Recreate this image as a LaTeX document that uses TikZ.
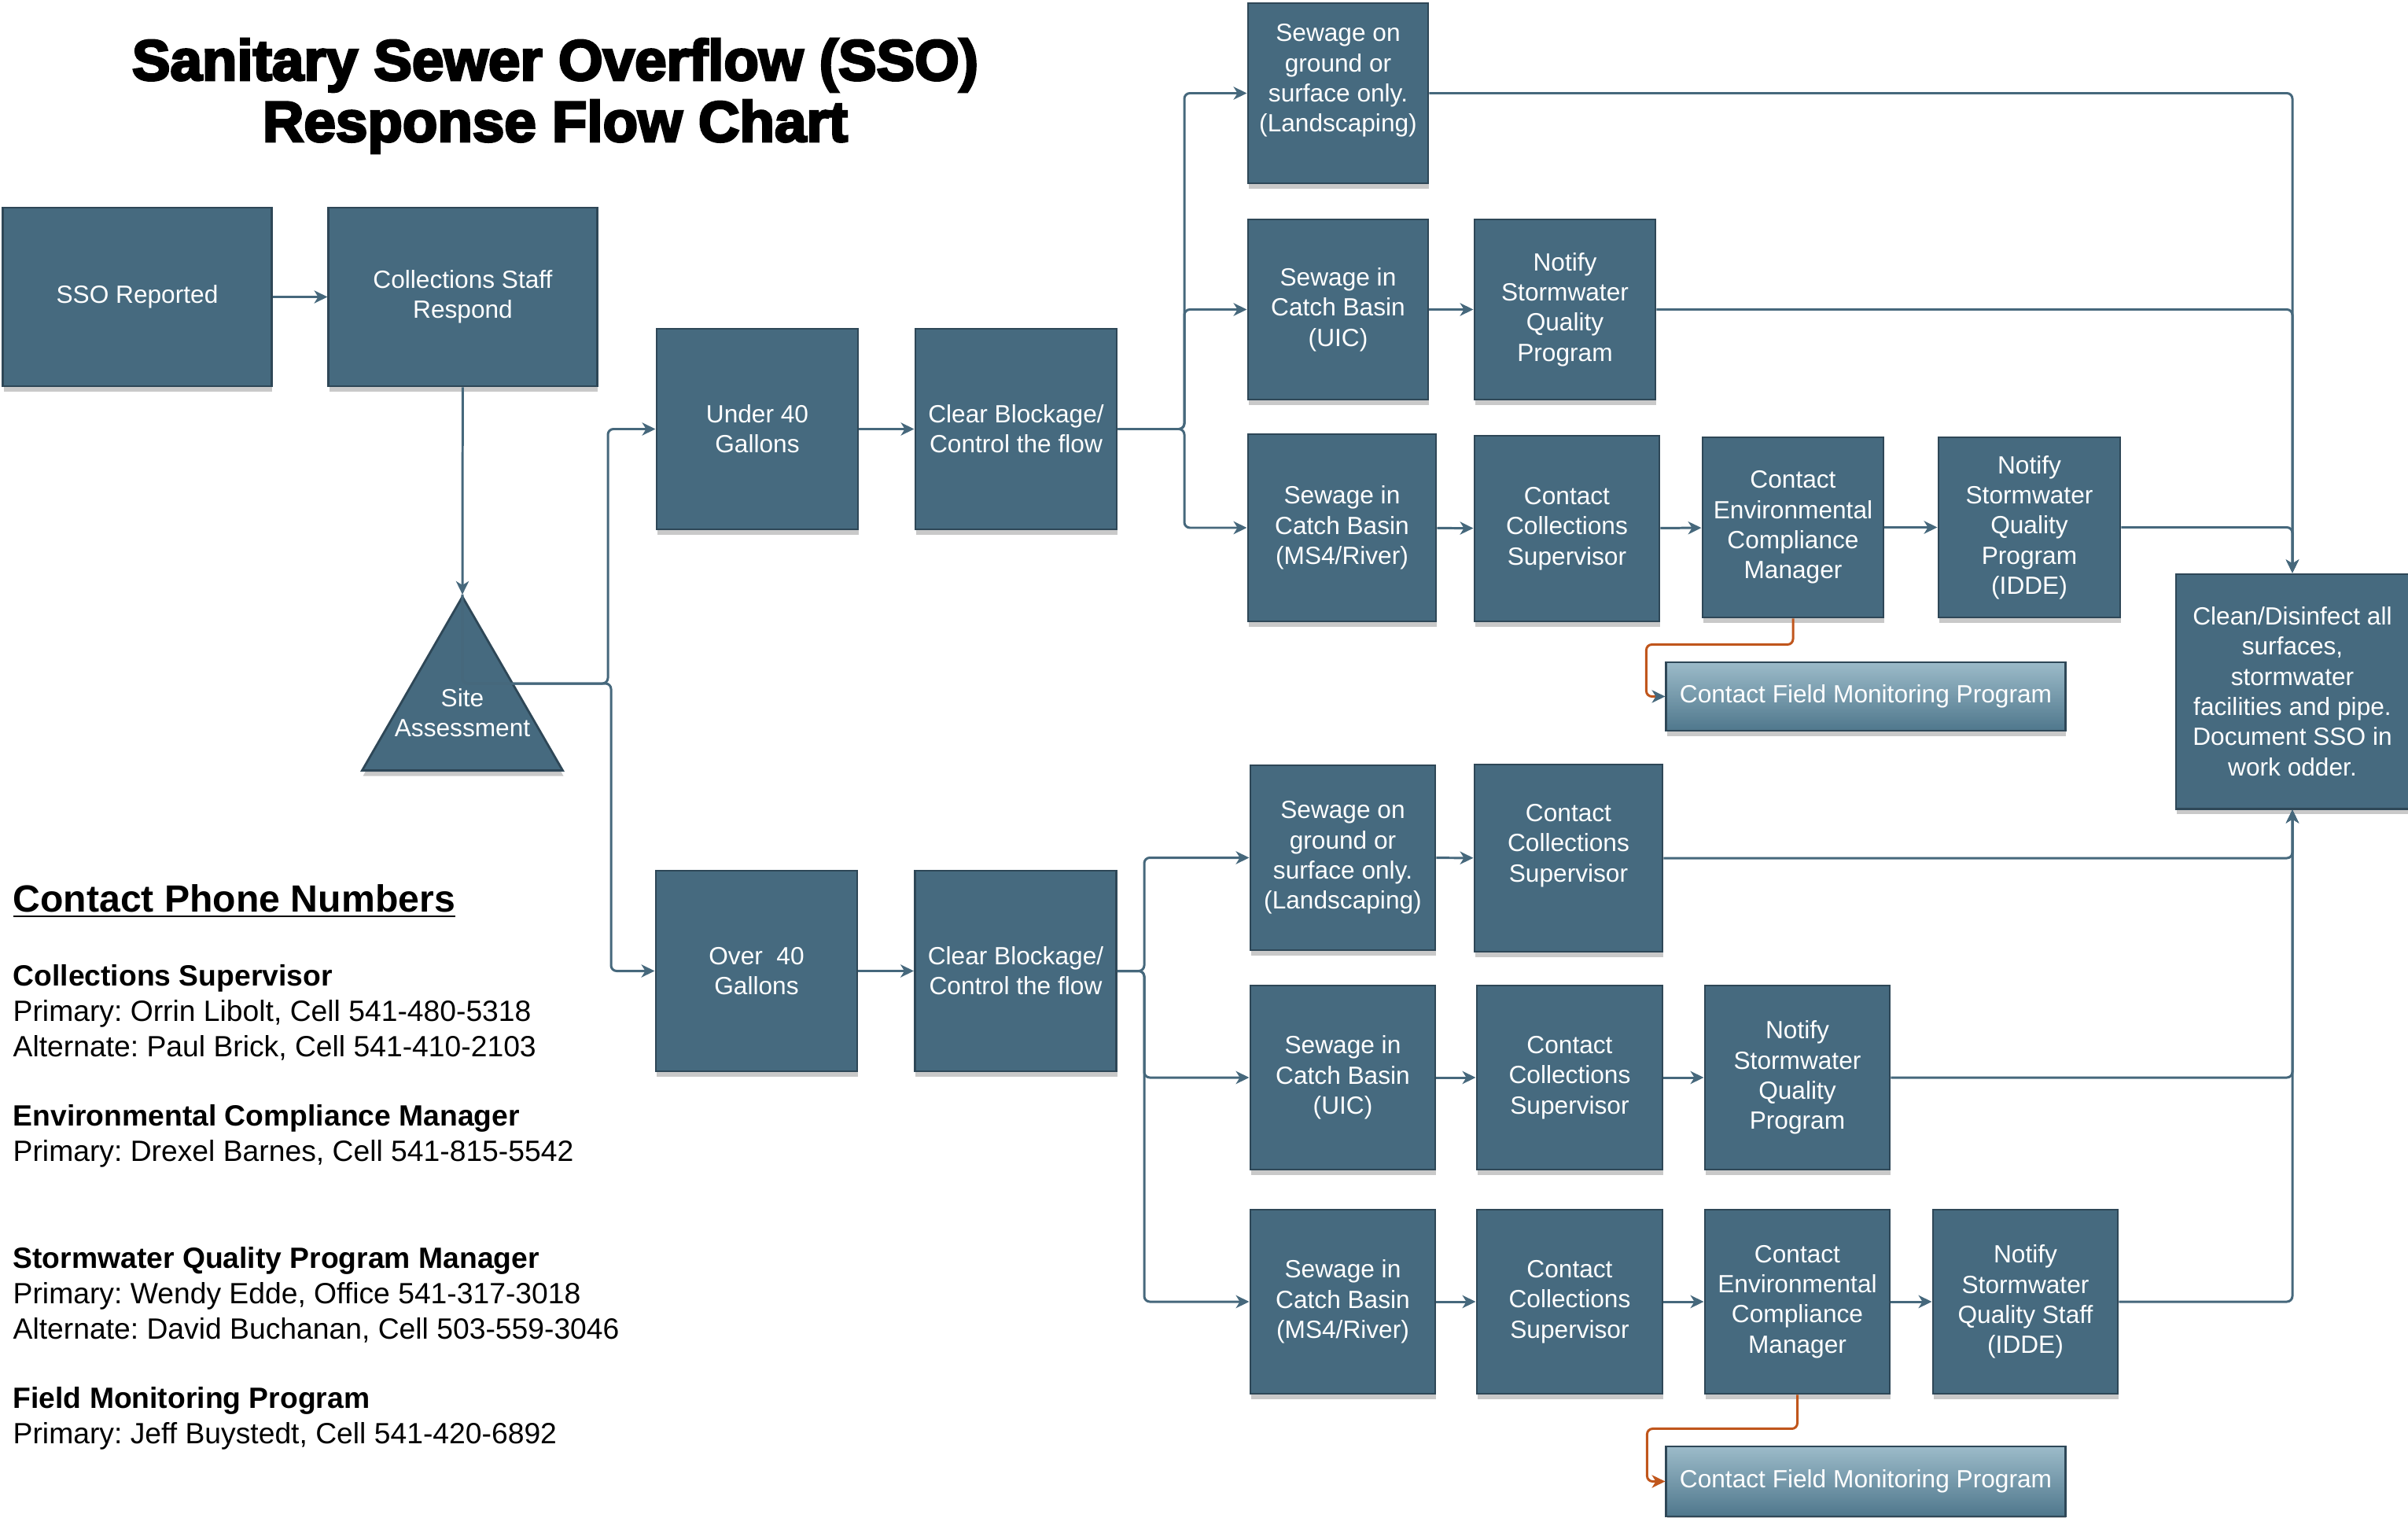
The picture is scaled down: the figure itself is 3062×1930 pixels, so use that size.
\documentclass[tikz,border=0pt]{standalone}
\usepackage{fontspec}
\setmainfont{Liberation Sans}
\newfontfamily\titleFamily{Liberation Sans}[BoldFeatures={FakeBold=4}]
\usetikzlibrary{arrows.meta, shadows}
\definecolor{boxFill}{HTML}{466A7F}
\definecolor{boxEdge}{HTML}{2E4757}
\definecolor{lineColor}{HTML}{46687C}
\definecolor{alertColor}{HTML}{C0561C}
\definecolor{fieldTop}{HTML}{9CBBC9}
\definecolor{fieldBottom}{HTML}{4F778C}
\newcommand{\boxFont}{\fontsize{9}{10.9}\selectfont}
\newcommand{\listFont}{\fontsize{10.6}{12.76}\selectfont}
\tikzstyle{pixelGrid} = [x = 0.01cm, y = -0.01cm]
\tikzstyle{stepBox} = [draw=boxEdge, fill=boxFill, line width=0.8pt, text=white, font=\boxFont, align=center, inner sep=0pt, drop shadow={shadow xshift=0.3pt, shadow yshift=-2pt, opacity=0.3, fill=black!70}]
\tikzstyle{fieldBox} = [stepBox, top color=fieldTop, bottom color=fieldBottom]
\tikzstyle{siteShape} = [stepBox, regular polygon, regular polygon sides=3, minimum size=2.944cm]
\tikzstyle{boxText} = [text=white, font=\boxFont, align=center, inner sep=0pt]
\tikzstyle{flowLine} = [draw=lineColor, line width=0.85pt, rounded corners=2pt, -{Stealth[length=4.8pt, width=4.6pt, inset=1.4pt]}]
\tikzstyle{alertLine} = [flowLine, draw=alertColor, -{Stealth[length=4.8pt, width=4.6pt, inset=1.4pt, color=alertColor]}]
\tikzstyle{listText} = [anchor=west, align=left, inner sep=0pt, font=\listFont]
\newcommand{\stepNode}[5]{\node [stepBox, minimum width = #3, minimum height = #4] (#1) at (#2) {#5};}
\newcommand{\fieldNode}[3]{\node [fieldBox, minimum width = 5.07cm, minimum height = #3] (#1) at (#2) {Contact Field Monitoring Program};}
\usetikzlibrary{shapes.geometric}
\frenchspacing
\begin{document}
\begin{tikzpicture}[pixelGrid]
  \useasboundingbox (0,0) rectangle (3062,1930);

  \node [font=\titleFamily\bfseries\fontsize{20.7}{22.2}\selectfont, align=center] (title) at (706,122) {Sanitary Sewer Overflow (SSO)\\Response Flow Chart};

  \stepNode{sso}{174.5,377.5}{3.41cm}{2.27cm}{SSO Reported}
  \stepNode{crew}{588.5,377.5}{3.41cm}{2.27cm}{Collections Staff\\Respond}
  \node [siteShape] (site) at (588,906) {};
  \node [boxText] (siteText) at (site.center) {Site\\Assessment};
  \stepNode{under}{963,545.5}{2.56cm}{2.55cm}{Under 40\\Gallons}
  \stepNode{clearA}{1292,545.5}{2.56cm}{2.55cm}{Clear Blockage/\\Control the flow}
  \stepNode{over}{962,1234.5}{2.56cm}{2.55cm}{Over \ 40\\Gallons}
  \stepNode{clearB}{1291.5,1234.5}{2.56cm}{2.55cm}{Clear Blockage/\\Control the flow}

  \stepNode{groundA}{1701.5,118.5}{2.29cm}{2.29cm}{Sewage on\\ground or\\surface only.\\(Landscaping)\\\mbox{}}
  \stepNode{uicA}{1701.5,393.5}{2.29cm}{2.29cm}{Sewage in\\Catch Basin\\(UIC)}
  \stepNode{swqA}{1990,393.5}{2.30cm}{2.29cm}{Notify\\Stormwater\\Quality\\Program}
  \stepNode{msA}{1706.5,671}{2.39cm}{2.38cm}{Sewage in\\Catch Basin\\(MS4/River)}
  \stepNode{supA}{1992.5,672}{2.35cm}{2.36cm}{Contact\\Collections\\Supervisor}
  \stepNode{ecmA}{2280,670.5}{2.30cm}{2.29cm}{Contact\\Environmental\\Compliance\\Manager}
  \stepNode{iddeA}{2580.5,670.5}{2.31cm}{2.29cm}{Notify\\Stormwater\\Quality\\Program\\(IDDE)}
  \fieldNode{fieldA}{2372.5,885.5}{0.87cm}
  \stepNode{clean}{2915,879}{2.96cm}{2.98cm}{Clean/Disinfect all\\surfaces,\\stormwater\\facilities and pipe.\\Document SSO in\\work odder.}

  \stepNode{groundB}{1707.5,1090.5}{2.35cm}{2.35cm}{Sewage on\\ground or\\surface only.\\(Landscaping)}
  \stepNode{supB1}{1994.5,1091}{2.39cm}{2.38cm}{Contact\\Collections\\Supervisor\\\mbox{}}
  \stepNode{uicB}{1707.5,1370}{2.35cm}{2.34cm}{Sewage in\\Catch Basin\\(UIC)}
  \stepNode{supB2}{1996,1370}{2.36cm}{2.34cm}{Contact\\Collections\\Supervisor}
  \stepNode{swqB}{2285.5,1370}{2.35cm}{2.34cm}{Notify\\Stormwater\\Quality\\Program}
  \stepNode{msB}{1707.5,1655}{2.35cm}{2.34cm}{Sewage in\\Catch Basin\\(MS4/River)}
  \stepNode{supB3}{1996,1655}{2.36cm}{2.34cm}{Contact\\Collections\\Supervisor}
  \stepNode{ecmB}{2285.5,1655}{2.35cm}{2.34cm}{Contact\\Environmental\\Compliance\\Manager}
  \stepNode{iddeB}{2575.5,1655}{2.35cm}{2.34cm}{Notify\\Stormwater\\Quality Staff\\(IDDE)}
  \fieldNode{fieldB}{2372.5,1883.5}{0.89cm}

  \coordinate (forkUp) at (773,869);
  \coordinate (forkDown) at (777,869);
  \coordinate (splitA) at (1506,545.5);
  \coordinate (splitB) at (1455,1234.5);

  \draw [flowLine] (sso) -- (crew);
  \draw [flowLine] (crew) -- (site.north);
  \draw [flowLine] (site.north) |- (forkUp) |- (under.west);
  \draw [flowLine] (site.north) |- (forkDown) |- (over.west);
  \draw [flowLine] (under) -- (clearA);
  \draw [flowLine] (over) -- (clearB);

  \foreach \target in {groundA, uicA, msA} {
    \draw [flowLine] (clearA.east) -- (splitA) |- (\target.west);
  }
  \foreach \target in {groundB, uicB, msB} {
    \draw [flowLine] (clearB.east) -- (splitB) |- (\target.west);
  }

  \draw [flowLine] (uicA) -- (swqA);
  \draw [flowLine] (msA) -- (supA);
  \draw [flowLine] (supA) -- (ecmA);
  \draw [flowLine] (ecmA) -- (iddeA);
  \draw [flowLine] (groundB) -- (supB1);
  \draw [flowLine] (uicB) -- (supB2);
  \draw [flowLine] (supB2) -- (swqB);
  \draw [flowLine] (msB) -- (supB3);
  \draw [flowLine] (supB3) -- (ecmB);
  \draw [flowLine] (ecmB) -- (iddeB);

  \foreach \source in {groundA, swqA, iddeA} {
    \draw [flowLine] (\source.east) -| (clean.north);
  }
  \foreach \source in {supB1, swqB, iddeB} {
    \draw [flowLine] (\source.east) -| (clean.south);
  }

  \draw [alertLine, -{Stealth[length=4.8pt, width=4.6pt, inset=1.4pt, color=lineColor]}] (ecmA.south) -- ++(0,33) -| ([xshift=-0.24cm]fieldA.west) -- (fieldA.west);
  \draw [alertLine] (ecmB.south) -- ++(0,43) -| ([xshift=-0.23cm]fieldB.west) -- (fieldB.west);

  \node [listText, font=\bfseries\fontsize{13.7}{16}\selectfont] (phoneHead) at (16,1146) {\underline{Contact Phone Numbers}};
  \node [listText] (supList) at (16,1287) {\textbf{Collections Supervisor}\\Primary: Orrin Libolt, Cell 541-480-5318\\Alternate: Paul Brick, Cell 541-410-2103};
  \node [listText] (ecmList) at (16,1444.5) {\textbf{Environmental Compliance Manager}\\Primary: Drexel Barnes, Cell 541-815-5542};
  \node [listText] (swqList) at (16,1646) {\textbf{Stormwater Quality Program Manager}\\Primary: Wendy Edde, Office 541-317-3018\\Alternate: David Buchanan, Cell 503-559-3046};
  \node [listText] (fieldList) at (16,1803.5) {\textbf{Field Monitoring Program}\\Primary: Jeff Buystedt, Cell 541-420-6892};
\end{tikzpicture}
\end{document}
